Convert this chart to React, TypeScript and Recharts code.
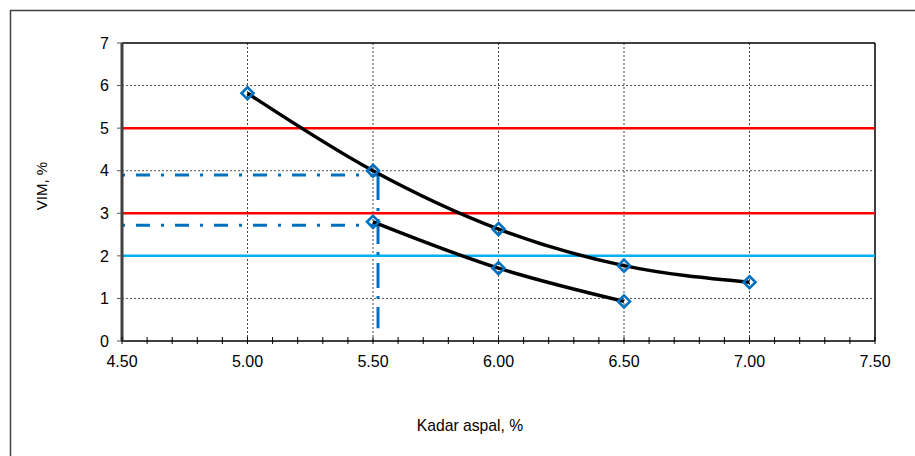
import React from 'react';
import { ComposedChart, Line, XAxis, YAxis, ReferenceLine } from 'recharts';

// ---- data ----
const upperX = [5.0, 5.5, 6.0, 6.5, 7.0];
const upperY = [5.82, 4.0, 2.63, 1.77, 1.38];
const lowerX = [5.5, 6.0, 6.5];
const lowerY = [2.8, 1.71, 0.93];

const xTicks = [4.5, 4.6, 4.7, 4.8, 4.9, 5.0, 5.1, 5.2, 5.3, 5.4, 5.5, 5.6, 5.7, 5.8, 5.9, 6.0, 6.1, 6.2, 6.3, 6.4, 6.5, 6.6, 6.7, 6.8, 6.9, 7.0, 7.1, 7.2, 7.3, 7.4, 7.5];
const xLabelTicks = [4.5, 5.0, 5.5, 6.0, 6.5, 7.0, 7.5];
const xGridLines = [5.0, 5.5, 6.0, 6.5, 7.0];
const yTicks = [0, 1, 2, 3, 4, 5, 6, 7];
const yGridLines = [1, 2, 3, 4, 5, 6];
const redLimits = [5, 3];
const cyanLimits = [2];
const readUpperVim = 3.9;
const readLowerVim = 2.72;
const readAsphalt = 5.52;
const readVerticalEnd = 0.3;

const xTitle = 'Kadar aspal, %';
const yTitle = 'VIM, %';

const upperData = upperX.map((x, i) => ({ x, y: upperY[i] }));
const lowerData = lowerX.map((x, i) => ({ x, y: lowerY[i] }));

const FONT = '"Liberation Sans", Arial, sans-serif';
const X_TICK_SIZE = 0;
const X_TICK_MARGIN = 15;

const XTick = (props: any) => {
  const { x, y, payload } = props;
  const axisY = y - X_TICK_SIZE - X_TICK_MARGIN;
  const v = payload.value as number;
  const major = xLabelTicks.some((t) => Math.abs(t - v) < 1e-6);
  return (
    <g>
      <line x1={x} x2={x} y1={axisY - 4} y2={axisY + 3} stroke="#000" strokeWidth={1} />
      {major && (
        <text x={x} y={y} dy="0.71em" textAnchor="middle" fontFamily={FONT} fontSize={16} fill="#000">
          {v.toFixed(2)}
        </text>
      )}
    </g>
  );
};

const Diamond = (props: any) => {
  const { cx, cy } = props;
  if (cx == null || cy == null) return null;
  const r = 6;
  return (
    <polygon
      points={`${cx},${cy - r} ${cx + r},${cy} ${cx},${cy + r} ${cx - r},${cy}`}
      fill="none"
      stroke="#0070C0"
      strokeWidth={2.6}
    />
  );
};

export default function App() {
  return (
    <div style={{ position: 'absolute', left: 0, top: 0, width: 915, height: 456, background: '#fff' }}>
      <svg width={915} height={456} style={{ position: 'absolute', left: 0, top: 0 }}>
        <rect x={10.5} y={10.5} width={1000} height={1000} fill="none" stroke="#404040" strokeWidth={1.5} />
        <text x={470} y={431} textAnchor="middle" fontFamily={FONT} fontSize={15.7} fill="#000">
          {xTitle}
        </text>
        <text
          x={47}
          y={186}
          textAnchor="middle"
          fontFamily={FONT}
          fontSize={15}
          fill="#000"
          transform="rotate(-90 47 186)"
        >
          {yTitle}
        </text>
      </svg>
      <div style={{ position: 'absolute', left: 0, top: 0 }}>
        <ComposedChart width={915} height={456} margin={{ top: 43, right: 40, bottom: 85, left: 82 }}>
          <XAxis
            type="number"
            dataKey="x"
            domain={[4.5, 7.5]}
            ticks={xTicks}
            interval={0}
            allowDataOverflow
            height={30}
            tickSize={X_TICK_SIZE}
            tickMargin={X_TICK_MARGIN}
            tick={<XTick />}
            tickLine={false}
            axisLine={{ stroke: '#000', strokeWidth: 1.5 }}
          />
          <YAxis
            type="number"
            domain={[0, 7]}
            ticks={yTicks}
            interval={0}
            allowDataOverflow
            width={40}
            tickSize={5}
            tickMargin={8}
            tickLine={{ stroke: '#555', strokeWidth: 1 }}
            axisLine={{ stroke: '#404040', strokeWidth: 3 }}
            tick={{ fontFamily: FONT, fontSize: 16, fill: '#000' }}
          />
          {yGridLines.map((v) => (
            <ReferenceLine key={'hg' + v} y={v} stroke="#555" strokeWidth={1} strokeDasharray="2 2" />
          ))}
          {xGridLines.map((v) => (
            <ReferenceLine key={'vg' + v} x={v} stroke="#444" strokeWidth={1} strokeDasharray="2 2" />
          ))}
          <ReferenceLine y={7} stroke="#000" strokeWidth={1.5} />
          <ReferenceLine x={7.5} stroke="#000" strokeWidth={1.5} />
          {redLimits.map((v) => (
            <ReferenceLine key={'r' + v} y={v} stroke="#FF0000" strokeWidth={2.5} />
          ))}
          {cyanLimits.map((v) => (
            <ReferenceLine key={'c' + v} y={v} stroke="#00B0F0" strokeWidth={2.5} />
          ))}
          <ReferenceLine
            segment={[{ x: 4.5, y: readUpperVim }, { x: readAsphalt, y: readUpperVim }]}
            stroke="#0070C0"
            strokeWidth={3}
            strokeDasharray="3 11 14 11"
          />
          <ReferenceLine
            segment={[{ x: 4.5, y: readLowerVim }, { x: readAsphalt, y: readLowerVim }]}
            stroke="#0070C0"
            strokeWidth={3}
            strokeDasharray="3 11 14 11"
          />
          <ReferenceLine
            segment={[{ x: readAsphalt, y: readUpperVim }, { x: readAsphalt, y: readVerticalEnd }]}
            stroke="#0070C0"
            strokeWidth={3}
            strokeDasharray="25 8 3 8"
          />
          <Line
            data={upperData}
            dataKey="y"
            type="monotone"
            stroke="#000"
            strokeWidth={3.5}
            dot={<Diamond />}
            activeDot={false}
            isAnimationActive={false}
          />
          <Line
            data={lowerData}
            dataKey="y"
            type="monotone"
            stroke="#000"
            strokeWidth={3.5}
            dot={<Diamond />}
            activeDot={false}
            isAnimationActive={false}
          />
        </ComposedChart>
      </div>
    </div>
  );
}
